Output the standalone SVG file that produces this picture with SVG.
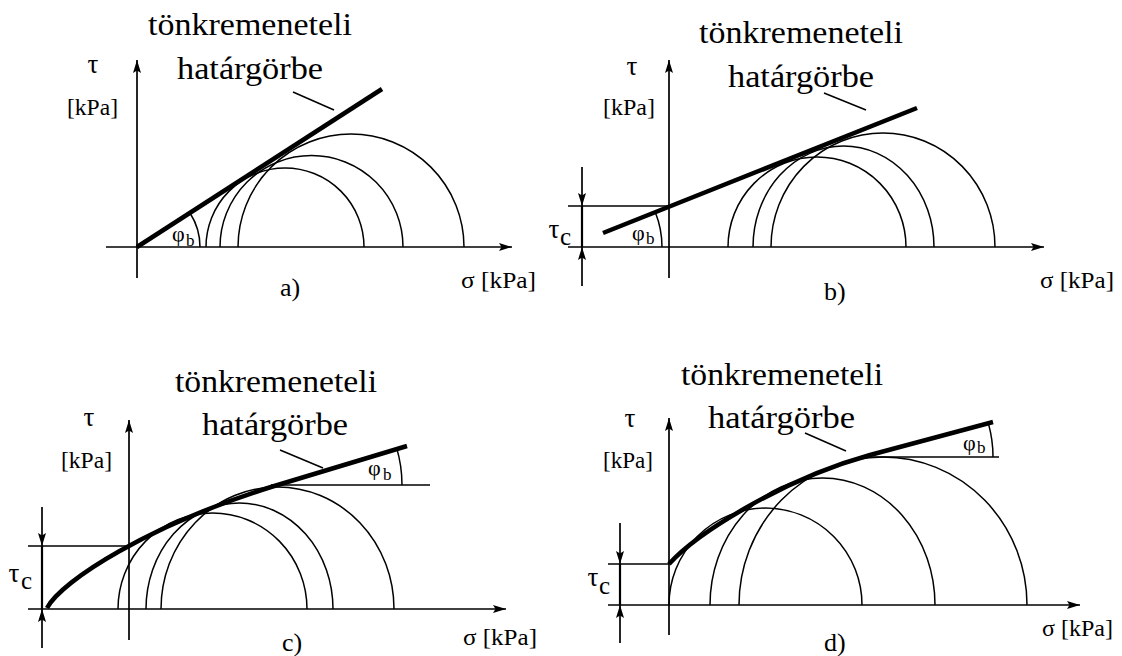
<svg xmlns="http://www.w3.org/2000/svg" width="1122" height="656" viewBox="0 0 1122 656" font-family="Liberation Serif, Tinos, FreeSerif, Noto Serif, DejaVu Serif, Times New Roman, serif">
<style>
.ax{stroke:#000;stroke-width:1.7;fill:none}
.arr{stroke:#000;stroke-width:1.7;fill:none;marker-end:url(#ah)}
.cir{stroke:#000;stroke-width:1.5;fill:none}
.env{stroke:#000;stroke-width:4.5;fill:none;stroke-linecap:butt}
.thin{stroke:#000;stroke-width:1.5;fill:none}
.brk{stroke:#000;stroke-width:2.2;fill:none}
.sf{fill:#000}
.ttl{font-size:31px}
.tau{font-size:27px;text-anchor:middle}
.unit{font-size:23px}
.sig{font-size:24px}
.lbl{font-size:26px}
.phi{font-size:22px}
.sub{font-size:17px}
.csub{font-size:25px;fill:#000}
</style>
<defs>
<marker id="ah" viewBox="0 0 13 8" refX="13" refY="4" markerWidth="13" markerHeight="8" orient="auto" markerUnits="userSpaceOnUse">
<path d="M0,0 L13,4 L0,8 L2.5,4 Z" fill="#000"/>
</marker>
</defs>

<g id="panel-a">
<line class="arr" x1="137" y1="278" x2="137" y2="60"/>
<line class="arr" x1="106" y1="247" x2="512" y2="247"/>
<path class="cir" d="M206,247 A79,79 0 0 1 364,247"/>
<path class="cir" d="M220,247 A91.5,91.5 0 0 1 403,247"/>
<path class="cir" d="M238,247 A113,113 0 0 1 464,247"/>
<line class="env" x1="137" y1="247" x2="382" y2="89"/>
<line class="thin" x1="293" y1="92" x2="334" y2="110"/>
<path class="thin" d="M200,247 A63,63 0 0 0 190,213"/>
<text class="sf ttl" x="148" y="35" textLength="204" lengthAdjust="spacingAndGlyphs">tönkremeneteli</text>
<text class="sf ttl" x="177" y="79" textLength="146" lengthAdjust="spacingAndGlyphs">határgörbe</text>
<text class="sf tau" x="93" y="73">τ</text>
<text class="sf unit" x="67" y="115" textLength="51" lengthAdjust="spacingAndGlyphs">[kPa]</text>
<text class="sf phi" x="172" y="241">φ</text><text class="sf sub" x="186" y="246">b</text>
<text class="sf lbl" x="280" y="296">a)</text>
<text class="sf sig" x="461" y="288" textLength="75" lengthAdjust="spacingAndGlyphs">σ [kPa]</text>
</g>

<g id="panel-b">
<line class="arr" x1="669" y1="278" x2="669" y2="60"/>
<line class="arr" x1="568" y1="247" x2="1044" y2="247"/>
<line class="ax" x1="568" y1="206" x2="669" y2="206"/>
<line class="brk" x1="582" y1="206" x2="582" y2="247"/>
<line class="arr" x1="582" y1="167" x2="582" y2="206"/>
<line class="arr" x1="582" y1="286" x2="582" y2="247"/>
<path class="cir" d="M728,247 A89,90 0 0 1 906,247"/>
<path class="cir" d="M753,247 A90.5,101 0 0 1 934,247"/>
<path class="cir" d="M771,247 A112,114 0 0 1 995,247"/>
<line class="env" x1="603" y1="233" x2="917" y2="108"/>
<line class="thin" x1="824" y1="93" x2="866" y2="110"/>
<path class="thin" d="M662,247 A94,94 0 0 0 655.3,212.2"/>
<text class="sf ttl" x="699" y="43" textLength="204" lengthAdjust="spacingAndGlyphs">tönkremeneteli</text>
<text class="sf ttl" x="728" y="87" textLength="146" lengthAdjust="spacingAndGlyphs">határgörbe</text>
<text class="sf tau" x="632" y="75">τ</text>
<text class="sf unit" x="603" y="115" textLength="52" lengthAdjust="spacingAndGlyphs">[kPa]</text>
<text class="sf tau" x="554" y="238">τ</text><text class="csub" x="560" y="245">c</text>
<text class="sf phi" x="632" y="240">φ</text><text class="sf sub" x="646" y="244">b</text>
<text class="sf lbl" x="824" y="300">b)</text>
<text class="sf sig" x="1040" y="288" textLength="74" lengthAdjust="spacingAndGlyphs">σ [kPa]</text>
</g>

<g id="panel-c">
<line class="arr" x1="129" y1="640" x2="129" y2="420"/>
<line class="arr" x1="28" y1="609" x2="506" y2="609"/>
<line class="ax" x1="28" y1="546" x2="129" y2="546"/>
<line class="brk" x1="42" y1="546" x2="42" y2="609"/>
<line class="arr" x1="42" y1="507" x2="42" y2="546"/>
<line class="arr" x1="42" y1="648" x2="42" y2="609"/>
<path class="cir" d="M118,609 A94.5,96 0 0 1 307,609"/>
<path class="cir" d="M146,609 A93.5,106 0 0 1 333,609"/>
<path class="cir" d="M161,609 A116.5,122 0 0 1 394,609"/>
<path class="env" d="M47,608 C62,580 150,525 271,487 L407,446"/>
<line class="thin" x1="271" y1="485" x2="430" y2="485"/>
<line class="thin" x1="280" y1="450" x2="323" y2="468"/>
<path class="thin" d="M402,485 A131,131 0 0 0 396.4,447.1"/>
<text class="sf ttl" x="175" y="392" textLength="202" lengthAdjust="spacingAndGlyphs">tönkremeneteli</text>
<text class="sf ttl" x="202" y="435" textLength="146" lengthAdjust="spacingAndGlyphs">határgörbe</text>
<text class="sf tau" x="89" y="426">τ</text>
<text class="sf unit" x="61" y="468" textLength="51" lengthAdjust="spacingAndGlyphs">[kPa]</text>
<text class="sf tau" x="14" y="582">τ</text><text class="csub" x="21" y="589">c</text>
<text class="sf phi" x="368" y="475">φ</text><text class="sf sub" x="383" y="480">b</text>
<text class="sf lbl" x="282" y="651">c)</text>
<text class="sf sig" x="463" y="645" textLength="74" lengthAdjust="spacingAndGlyphs">σ [kPa]</text>
</g>

<g id="panel-d">
<line class="arr" x1="669" y1="635" x2="669" y2="418"/>
<line class="arr" x1="608" y1="605" x2="1080" y2="605"/>
<line class="ax" x1="608" y1="564" x2="669" y2="564"/>
<line class="brk" x1="620" y1="564" x2="620" y2="605"/>
<line class="arr" x1="620" y1="523" x2="620" y2="564"/>
<line class="arr" x1="620" y1="643" x2="620" y2="605"/>
<path class="cir" d="M669,605 A96.5,97 0 0 1 862,605"/>
<path class="cir" d="M710,605 A112.5,127 0 0 1 935,605"/>
<path class="cir" d="M739,605 A144,148 0 0 1 1027,605"/>
<path class="env" d="M669,564 C695,535 780,480 870,455 L993,422"/>
<line class="thin" x1="870" y1="457" x2="999" y2="457"/>
<line class="thin" x1="805" y1="433" x2="846" y2="451"/>
<path class="thin" d="M993,457 A123,123 0 0 0 988.5,423.9"/>
<text class="sf ttl" x="681" y="385" textLength="202" lengthAdjust="spacingAndGlyphs">tönkremeneteli</text>
<text class="sf ttl" x="708" y="428" textLength="147" lengthAdjust="spacingAndGlyphs">határgörbe</text>
<text class="sf tau" x="630" y="427">τ</text>
<text class="sf unit" x="603" y="468" textLength="50" lengthAdjust="spacingAndGlyphs">[kPa]</text>
<text class="sf tau" x="593" y="586">τ</text><text class="csub" x="599" y="594">c</text>
<text class="sf phi" x="963" y="450">φ</text><text class="sf sub" x="977" y="453">b</text>
<text class="sf lbl" x="824" y="651">d)</text>
<text class="sf sig" x="1042" y="636" textLength="71" lengthAdjust="spacingAndGlyphs">σ [kPa]</text>
</g>
</svg>
